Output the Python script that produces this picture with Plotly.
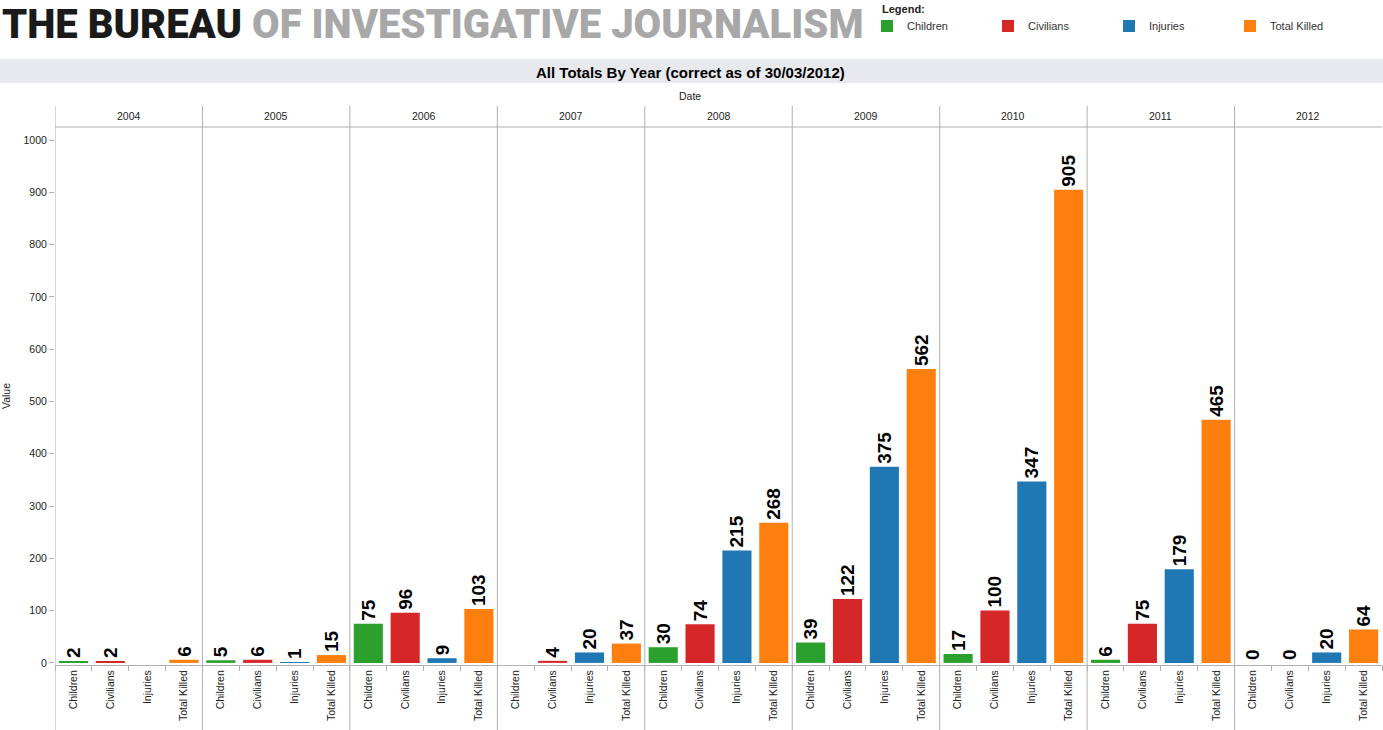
import plotly.graph_objects as go

years = ["2004", "2005", "2006", "2007", "2008", "2009", "2010", "2011", "2012"]
measures = ["Children", "Civilians", "Injuries", "Total Killed"]
colors = ["#2ca02c", "#d62728", "#1f77b4", "#ff7f0e"]

children = [2, 5, 75, None, 30, 39, 17, 6, 0]
civilians = [2, 6, 96, 4, 74, 122, 100, 75, 0]
injuries = [None, 1, 9, 20, 215, 375, 347, 179, 20]
total_killed = [6, 15, 103, 37, 268, 562, 905, 465, 64]

series = [children, civilians, injuries, total_killed]

FONT = "Arial, Liberation Sans, sans-serif"
W, H = 1383, 730
L, R, T, B = 55, 1, 127, 65
PW, PH = W - L - R, H - T - B
Y0 = H - B  # pixel of plot bottom


def px(x):
    return (x - L) / PW


def py(y):
    return (Y0 - y) / PH


n_m = len(measures)
fig = go.Figure()
for mi, (m, c, vals) in enumerate(zip(measures, colors, series)):
    xs = [yi * n_m + mi for yi in range(len(years))]
    fig.add_trace(go.Bar(
        x=xs, y=vals, name=m, marker_color=c, marker_line_width=0,
        width=0.79,
        text=[("" if v is None else str(v)) for v in vals],
        textposition="outside", textangle=-90, constraintext="none",
        textfont=dict(family=FONT, size=19, color="#000000", weight="bold"),
        cliponaxis=False, hoverinfo="x+y",
    ))

tickvals = [yi * n_m + mi for yi in range(len(years)) for mi in range(n_m)]
ticktext = [m for _ in years for m in measures]

shapes = []
# title band
shapes.append(dict(type="rect", xref="paper", yref="paper", x0=px(0), x1=px(W),
                   y0=py(83), y1=py(59), fillcolor="#e8e9ed", line_width=0, layer="below"))
# vertical year dividers (incl. left edge)
for yi in range(len(years)):
    xv = yi * n_m - 0.5
    shapes.append(dict(type="line", xref="x", yref="paper", x0=xv, x1=xv,
                       y0=py(H), y1=py(106), line=dict(color="#b0b0b0", width=1)))
# header bottom line
shapes.append(dict(type="line", xref="paper", yref="paper", x0=0, x1=1, y0=1, y1=1,
                   line=dict(color="#b0b0b0", width=1)))

annotations = []
annotations.append(dict(
    text="<span style='color:#1a1a1a'>THE BUREAU</span> <span style='color:#a8a8a8'>OF INVESTIGATIVE JOURNALISM</span>",
    xref="paper", yref="paper", x=px(0), y=py(25), xanchor="left", yanchor="middle",
    showarrow=False, font=dict(family="Roboto, Arial, sans-serif",
                               size=40, weight=900, color="#1a1a1a")))
annotations.append(dict(text="<b>Legend:</b>", xref="paper", yref="paper",
                        x=px(880), y=py(9), xanchor="left", yanchor="middle",
                        showarrow=False, font=dict(family=FONT, size=11, color="#222222")))
annotations.append(dict(text="<b>All Totals By Year (correct as of 30/03/2012)</b>",
                        xref="paper", yref="paper", x=px(690), y=py(72),
                        xanchor="center", yanchor="middle", showarrow=False,
                        font=dict(family=FONT, size=15, color="#000000")))
annotations.append(dict(text="Date", xref="paper", yref="paper", x=px(690), y=py(96),
                        xanchor="center", yanchor="middle", showarrow=False,
                        font=dict(family=FONT, size=10.5, color="#222222")))
for yi, yr in enumerate(years):
    annotations.append(dict(text=yr, xref="x", yref="paper", x=yi * n_m + 1.5, y=py(116),
                            xanchor="center", yanchor="middle", showarrow=False,
                            font=dict(family=FONT, size=10.5, color="#222222")))

fig.update_layout(
    width=W, height=H, autosize=False,
    margin=dict(l=L, r=R, t=T, b=B, autoexpand=False),
    paper_bgcolor="white", plot_bgcolor="white",
    barmode="overlay",
    font=dict(family=FONT, size=10.5, color="#222222"),
    shapes=shapes, annotations=annotations,
    showlegend=True,
    legend=dict(orientation="h", x=px(867), y=py(26), xanchor="left", yanchor="middle",
                entrywidth=76, entrywidthmode="pixels",
                font=dict(family=FONT, size=11, color="#333333"),
                bgcolor="rgba(0,0,0,0)", itemclick=False, itemdoubleclick=False,
                tracegroupgap=0),
    xaxis=dict(range=[-0.5, len(years) * n_m - 0.5], tickmode="array",
               tickvals=tickvals, ticktext=ticktext, tickangle=-90, ticks="",
               showgrid=False, zeroline=False, showline=True, linecolor="#b0b0b0",
               tickfont=dict(family=FONT, size=10.5, color="#222222"),
               minor=dict(tickmode="linear", tick0=0.5, dtick=1, ticks="outside",
                          ticklen=5, tickcolor="#b0b0b0", showgrid=False),
               fixedrange=True),
    yaxis=dict(range=[-4, 1025], dtick=100, tick0=0, ticks="outside", ticklen=5,
               tickcolor="#b0b0b0", showgrid=False, zeroline=False, showline=False,
               tickfont=dict(family=FONT, size=10.5, color="#222222"),
               title=dict(text="Value", standoff=18,
                          font=dict(family=FONT, size=10.5, color="#222222")),
               fixedrange=True),
)

fig.write_html("out.html")
